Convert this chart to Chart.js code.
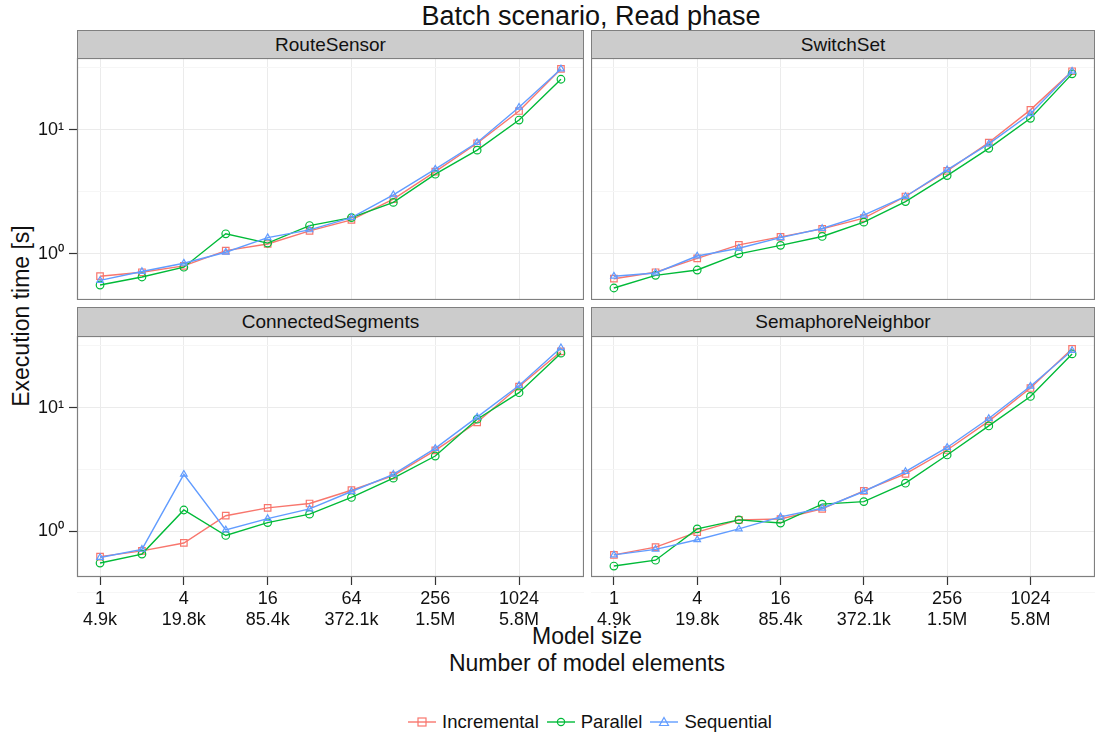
<!DOCTYPE html>
<html>
<head>
<meta charset="utf-8">
<script src="https://cdn.jsdelivr.net/npm/chart.js@4.4.1/dist/chart.umd.min.js"></script>
<style>
body { margin: 0; background: #fff; font-family: "Liberation Sans", Arial, sans-serif; color: #111; }
#wrap { position: relative; width: 1095px; height: 737px; overflow: hidden; }
.box { position: absolute; }
.strip { position: absolute; box-sizing: border-box; background: #cccccc; border: 1px solid #7f7f7f;
         font-size: 19px; text-align: center; color: #111; }
.txt { position: absolute; white-space: nowrap; transform: translate(-50%, -50%); }
#legend { position: absolute; left: 0; width: 1180px; top: 711px; display: flex; justify-content: center;
          font-size: 18.5px; }
#legend span.item { display: inline-flex; align-items: center; margin: 0 4px; }
#legend svg { margin-right: 6px; }
</style>
</head>
<body>
<div id="wrap">
  <div class="txt" style="left:591px;top:16px;font-size:27px;">Batch scenario, Read phase</div>
  <div class="txt" style="left:21px;top:316px;font-size:23px;transform:translate(-50%,-50%) rotate(-90deg);">Execution time [s]</div>
  <div class="txt" style="left:587px;top:636px;font-size:23px;">Model size</div>
  <div class="txt" style="left:587px;top:663px;font-size:23px;">Number of model elements</div>

  <div class="strip" style="left:77px;top:30px;width:507px;height:29px;line-height:27px;">RouteSensor</div>
  <div class="strip" style="left:591px;top:30px;width:504px;height:29px;line-height:27px;">SwitchSet</div>
  <div class="strip" style="left:77px;top:307px;width:507px;height:30px;line-height:28px;">ConnectedSegments</div>
  <div class="strip" style="left:591px;top:307px;width:504px;height:30px;line-height:28px;">SemaphoreNeighbor</div>

  <div class="box" style="left:0;top:58px;width:584px;height:242px;"><canvas id="routeSensor"></canvas></div>
  <div class="box" style="left:591px;top:58px;width:504px;height:242px;"><canvas id="switchSet"></canvas></div>
  <div class="box" style="left:0;top:336px;width:584px;height:301px;"><canvas id="connectedSegments"></canvas></div>
  <div class="box" style="left:591px;top:336px;width:504px;height:301px;"><canvas id="semaphoreNeighbor"></canvas></div>

  <div id="legend"></div>
</div>
<script>
// model sizes (x) and the element counts printed under the size ticks
var sizes = [1, 2, 4, 8, 16, 32, 64, 128, 256, 512, 1024, 2048];
var tickSizes = [1, 4, 16, 64, 256, 1024];
var tickElements = ['4.9k', '19.8k', '85.4k', '372.1k', '1.5M', '5.8M'];

var tools = ['Incremental', 'Parallel', 'Sequential'];
var toolColors = ['#F8766D', '#00BA38', '#619CFF'];
var toolShapes = ['rect', 'circle', 'triangle'];

// RouteSensor
var routeSensorIncremental = [0.66, 0.71, 0.80, 1.06, 1.20, 1.53, 1.88, 2.76, 4.6, 7.8, 14.2, 31];
var routeSensorParallel    = [0.56, 0.65, 0.78, 1.45, 1.22, 1.69, 1.96, 2.6, 4.39, 6.86, 12.0, 25.6];
var routeSensorSequential  = [0.61, 0.72, 0.84, 1.03, 1.35, 1.56, 1.96, 2.99, 4.82, 7.9, 15.2, 31];

// SwitchSet
var switchSetIncremental = [0.63, 0.71, 0.92, 1.18, 1.37, 1.59, 1.94, 2.9, 4.67, 7.9, 14.5, 29.7];
var switchSetParallel    = [0.53, 0.67, 0.74, 1.0, 1.17, 1.38, 1.8, 2.64, 4.28, 7.1, 12.4, 28.3];
var switchSetSequential  = [0.66, 0.70, 0.96, 1.11, 1.35, 1.6, 2.05, 2.9, 4.76, 7.7, 13.5, 29.7];

// ConnectedSegments
var connectedSegmentsIncremental = [0.62, 0.69, 0.80, 1.33, 1.54, 1.67, 2.14, 2.81, 4.5, 7.6, 14.8, 28.5];
var connectedSegmentsParallel    = [0.55, 0.65, 1.48, 0.92, 1.17, 1.37, 1.87, 2.68, 4.05, 8.05, 13.2, 27.6];
var connectedSegmentsSequential  = [0.61, 0.71, 2.88, 1.02, 1.26, 1.51, 2.09, 2.88, 4.67, 8.36, 15.1, 30.5];

// SemaphoreNeighbor
var semaphoreNeighborIncremental = [0.64, 0.74, 0.98, 1.23, 1.25, 1.51, 2.11, 2.9, 4.53, 7.76, 14.4, 29.9];
var semaphoreNeighborParallel    = [0.52, 0.58, 1.04, 1.23, 1.16, 1.65, 1.73, 2.44, 4.13, 7.1, 12.3, 27.2];
var semaphoreNeighborSequential  = [0.64, 0.71, 0.85, 1.04, 1.30, 1.53, 2.09, 3.03, 4.75, 8.15, 14.9, 29.0];

var yMin = 0.424, yMax = 38.0;
var xMin = Math.pow(2, -0.55), xMax = Math.pow(2, 11.55);
var yMajor = [1, 10];
var yTicks = [Math.pow(10, -0.5), 1, Math.pow(10, 0.5), 10, Math.pow(10, 1.5)];

Chart.defaults.font.family = '"Liberation Sans", Arial, sans-serif';
Chart.defaults.color = '#111';

// grey panel border like theme_bw
var panelBorder = {
    id: 'panelBorder',
    afterDraw: function (chart) {
        var a = chart.chartArea, ctx = chart.ctx;
        ctx.save();
        ctx.strokeStyle = '#7f7f7f';
        ctx.lineWidth = 1.2;
        ctx.strokeRect(a.left + 0.5, a.top + 0.5, a.right - a.left - 1, a.bottom - a.top - 1);
        ctx.restore();
    }
};

function isMajorY(v) {
    return yMajor.some(function (m) { return Math.abs(v - m) < 1e-9; });
}

function makePanel(id, series, showY, showX) {
    var datasets = series.map(function (vals, i) {
        return {
            label: tools[i],
            data: sizes.map(function (s, j) { return { x: s, y: vals[j] }; }),
            borderColor: toolColors[i],
            backgroundColor: 'rgba(0,0,0,0)',
            borderWidth: 1.4,
            pointStyle: toolShapes[i],
            pointRadius: toolShapes[i] === 'rect' ? 4.6 : 3.8,
            pointBorderWidth: 1.2,
            pointBackgroundColor: 'rgba(0,0,0,0)',
            pointBorderColor: toolColors[i],
            tension: 0,
            order: 3 - i
        };
    });

    new Chart(document.getElementById(id), {
        type: 'line',
        data: { datasets: datasets },
        options: {
            responsive: true,
            maintainAspectRatio: false,
            animation: false,
            layout: { padding: 0, autoPadding: false },
            plugins: { legend: { display: false }, tooltip: { enabled: false } },
            scales: {
                x: {
                    type: 'logarithmic',
                    min: xMin,
                    max: xMax,
                    afterBuildTicks: function (scale) {
                        scale.ticks = tickSizes.map(function (v) { return { value: v }; });
                    },
                    afterFit: function (scale) {
                        scale.height = showX ? 60 : 0;
                        scale.paddingLeft = 0;
                        scale.paddingRight = 0;
                    },
                    border: { display: false },
                    grid: {
                        color: '#ebebeb',
                        lineWidth: 1,
                        drawTicks: showX,
                        tickLength: 8,
                        tickColor: '#333',
                        tickWidth: 1.2
                    },
                    ticks: {
                        display: showX,
                        autoSkip: false,
                        maxRotation: 0,
                        padding: 3,
                        font: { size: 18 },
                        color: '#111',
                        callback: function (v) {
                            var k = tickSizes.indexOf(v);
                            return k < 0 ? '' : [String(v), tickElements[k]];
                        }
                    }
                },
                y: {
                    type: 'logarithmic',
                    min: yMin,
                    max: yMax,
                    afterBuildTicks: function (scale) {
                        scale.ticks = yTicks.map(function (v) { return { value: v }; });
                    },
                    afterFit: function (scale) {
                        scale.width = showY ? 77 : 0;
                        scale.paddingTop = 0;
                        scale.paddingBottom = 0;
                    },
                    border: { display: false },
                    grid: {
                        color: function (c) { return isMajorY(c.tick.value) ? '#ebebeb' : '#f6f6f6'; },
                        lineWidth: 1,
                        drawTicks: showY,
                        tickLength: 8,
                        tickWidth: 1.2,
                        tickColor: function (c) { return isMajorY(c.tick.value) ? '#333' : 'rgba(0,0,0,0)'; }
                    },
                    ticks: {
                        display: showY,
                        padding: 5,
                        font: { size: 18 },
                        color: '#111',
                        callback: function (v) {
                            if (Math.abs(v - 1) < 1e-9) return '10\u2070';
                            if (Math.abs(v - 10) < 1e-9) return '10\u00b9';
                            return '';
                        }
                    }
                }
            }
        },
        plugins: [panelBorder]
    });
}

makePanel('routeSensor', [routeSensorIncremental, routeSensorParallel, routeSensorSequential], true, false);
makePanel('switchSet', [switchSetIncremental, switchSetParallel, switchSetSequential], false, false);
makePanel('connectedSegments', [connectedSegmentsIncremental, connectedSegmentsParallel, connectedSegmentsSequential], true, true);
makePanel('semaphoreNeighbor', [semaphoreNeighborIncremental, semaphoreNeighborParallel, semaphoreNeighborSequential], false, true);

// legend: line with hollow marker + label
var markerSvg = [
    '<rect x="10" y="5" width="8" height="8" fill="none" stroke-width="1.2"/>',
    '<circle cx="14" cy="9" r="3.6" fill="none" stroke-width="1.2"/>',
    '<polygon points="14,4.5 18.5,12.5 9.5,12.5" fill="none" stroke-width="1.2"/>'
];
var legend = document.getElementById('legend');
tools.forEach(function (t, i) {
    var item = document.createElement('span');
    item.className = 'item';
    item.innerHTML = '<svg width="28" height="18" stroke="' + toolColors[i] + '">' +
        '<line x1="0" y1="9" x2="28" y2="9" stroke-width="1.4"/>' + markerSvg[i] + '</svg>' + t;
    legend.appendChild(item);
});
</script>
</body>
</html>
